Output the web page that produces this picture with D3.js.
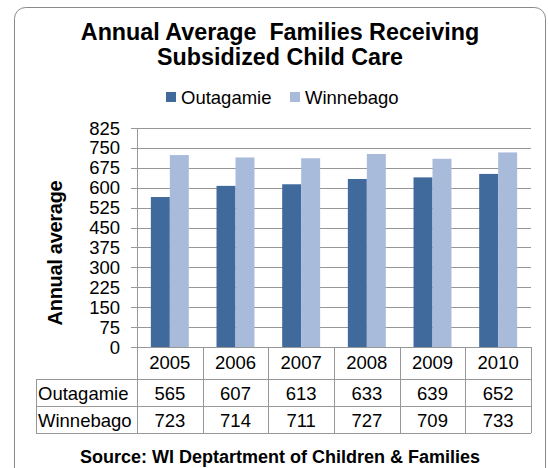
<!DOCTYPE html>
<html><head><meta charset="utf-8">
<script src="https://cdn.jsdelivr.net/npm/d3@7"></script>
<style>body{margin:0;background:#fff} text{font-family:"Liberation Sans",Arial,sans-serif}</style>
</head><body><svg id="c" width="548" height="468"></svg>
<script>
const years = ["2005","2006","2007","2008","2009","2010"];
const seriesNames = ["Outagamie","Winnebago"];
const outagamie = [565,607,613,633,639,652];
const winnebago = [723,714,711,727,709,733];
const yTicks = [0,75,150,225,300,375,450,525,600,675,750,825];
const colors = ["#40699C","#A9BBDA"];
const titleLines = ["Annual Average  Families Receiving","Subsidized Child Care"];
const yTitle = "Annual average";
const sourceText = "Source: WI Deptartment of Children & Families";

const series = [outagamie, winnebago];
const svg = d3.select("#c");
const grid = "#979797";

svg.append("rect").attr("x",14.5).attr("y",7.5).attr("width",531).attr("height",472)
  .attr("rx",11).attr("fill","#fff").attr("stroke","#8a8a8a").attr("stroke-width",1);

const x = d3.scaleBand().domain(years).range([137,531]).paddingInner(0).paddingOuter(0);
const x1 = d3.scaleBand().domain(seriesNames).range([0,x.bandwidth()]).paddingInner(0).paddingOuter(0.73);
const y = d3.scaleLinear().domain([0,825]).range([347,128]);

// gridlines
svg.append("g").selectAll("line").data(yTicks).join("line")
  .attr("x1",131).attr("x2",531).attr("y1",d=>Math.round(y(d))+0.5).attr("y2",d=>Math.round(y(d))+0.5)
  .attr("stroke",grid).attr("stroke-width",1);

// y tick labels
svg.append("g").selectAll("text").data(yTicks).join("text")
  .attr("x",120).attr("y",d=>y(d)+6.5).attr("text-anchor","end")
  .attr("font-size",18.5).attr("fill","#000").text(d=>d);

// bars
seriesNames.forEach((s,si)=>{
  svg.append("g").selectAll("rect").data(series[si]).join("rect")
    .attr("x",(d,i)=>x(years[i])+x1(s)).attr("width",x1.bandwidth())
    .attr("y",d=>y(d)).attr("height",d=>y(0)-y(d))
    .attr("fill",colors[si]);
});

// y axis line
svg.append("line").attr("x1",137.5).attr("x2",137.5).attr("y1",128).attr("y2",433)
  .attr("stroke",grid);

// table lines
[379,406,433].forEach(v=>{
  svg.append("line").attr("x1",36).attr("x2",531).attr("y1",v+0.5).attr("y2",v+0.5).attr("stroke",grid);
});
svg.append("line").attr("x1",36.5).attr("x2",36.5).attr("y1",379).attr("y2",433).attr("stroke",grid);
years.forEach((yr,i)=>{
  const xe = Math.round(x(yr)+x.bandwidth())+0.5;
  svg.append("line").attr("x1",xe).attr("x2",xe).attr("y1",347).attr("y2",433).attr("stroke",grid);
});

// table text
svg.append("g").selectAll("text").data(years).join("text")
  .attr("x",d=>x(d)+x.bandwidth()/2).attr("y",369).attr("text-anchor","middle")
  .attr("font-size",18.5).text(d=>d);
const rowBase = [400,427];
seriesNames.forEach((s,si)=>{
  svg.append("text").attr("x",38).attr("y",rowBase[si]).attr("font-size",18.5).text(s);
  svg.append("g").selectAll("text").data(series[si]).join("text")
    .attr("x",(d,i)=>x(years[i])+x.bandwidth()/2).attr("y",rowBase[si]).attr("text-anchor","middle")
    .attr("font-size",18.5).text(d=>d);
});

// title
titleLines.forEach((t,i)=>{
  svg.append("text").attr("x",280).attr("y",40+i*25).attr("text-anchor","middle")
    .attr("font-size",23.3).attr("font-weight","bold").attr("xml:space","preserve").style("white-space","pre").text(t);
});

// legend
const legX = [166,290];
seriesNames.forEach((s,si)=>{
  svg.append("rect").attr("x",legX[si]).attr("y",92).attr("width",10).attr("height",10).attr("fill",colors[si]);
  svg.append("text").attr("x",legX[si]+15).attr("y",104).attr("font-size",18.5).text(s);
});

// y title
svg.append("text").attr("transform","translate(62,253) rotate(-90)").attr("text-anchor","middle")
  .attr("font-size",20).attr("font-weight","bold").attr("letter-spacing",-0.3).text(yTitle);

// source
svg.append("text").attr("x",280).attr("y",463).attr("text-anchor","middle")
  .attr("font-size",18).attr("font-weight","bold").text(sourceText);
</script></body></html>
